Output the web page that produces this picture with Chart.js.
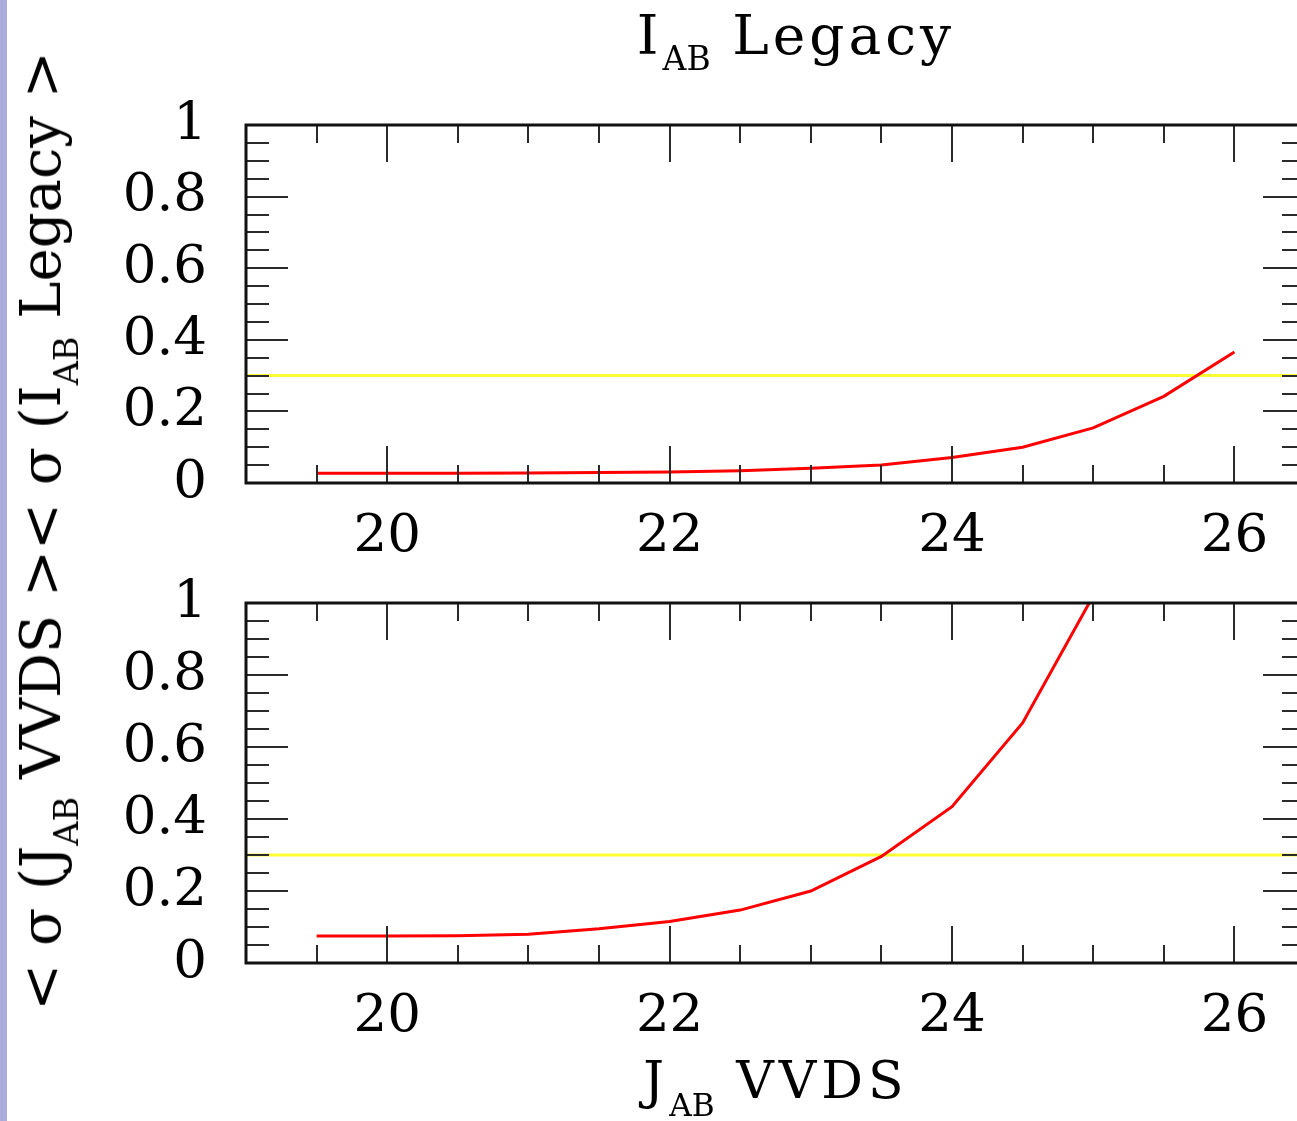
<!DOCTYPE html>
<html>
<head>
<meta charset="utf-8">
<title>sigma vs magnitude</title>
<script src="https://cdn.jsdelivr.net/npm/chart.js@4.4.1/dist/chart.umd.min.js"></script>
<style>
  html, body { margin: 0; padding: 0; background: #fff; overflow: hidden; }
  body { width: 1297px; height: 1121px; position: relative; font-family: "DejaVu Serif", serif; color: #000; }
  #strip { position: absolute; left: 0; top: 0; width: 7px; height: 1121px; background: #acacdc; z-index: 5; }
  canvas { position: absolute; left: 0; }
  #topPanel { top: 0; }
  #bottomPanel { top: 480px; }
  .txt { position: absolute; white-space: nowrap; line-height: 1; }
  .sub { font-size: 0.6em; line-height: 0; position: relative; letter-spacing: 0; }
  #title { font-size: 55px; letter-spacing: 4px; left: 796px; top: 8px; transform: translateX(-50%); }
  #title .sub { top: 16px; }
  #xlabel { font-size: 52px; letter-spacing: 5px; left: 776px; top: 1054px; transform: translateX(-50%); }
  #xlabel .sub { top: 18px; }
  #ylabel { font-size: 56px; left: 41px; top: 531px; transform: translate(-50%, -50%) rotate(-90deg); }
  #ylabel .sub { top: 18px; }
</style>
</head>
<body>
<div id="strip"></div>
<canvas id="topPanel" width="1330" height="580"></canvas>
<canvas id="bottomPanel" width="1330" height="641"></canvas>
<div class="txt" id="title">I<span class="sub">AB</span> Legacy</div>
<div class="txt" id="xlabel">J<span class="sub">AB</span> VVDS</div>
<div class="txt" id="ylabel">&lt; σ (J<span class="sub">AB</span> VVDS &gt;&lt; σ (I<span class="sub">AB</span> Legacy &gt;</div>

<script>
// magnitude bins (J_AB VVDS)
const magLegacy = [19.5, 20, 20.5, 21, 21.5, 22, 22.5, 23, 23.5, 24, 24.5, 25, 25.5, 26];
const sigmaLegacy = [0.027, 0.027, 0.027, 0.028, 0.029, 0.031, 0.034, 0.041, 0.050, 0.071, 0.100, 0.154, 0.242, 0.366];

const magVvds = [19.5, 20, 20.5, 21, 21.5, 22, 22.5, 23, 23.5, 24, 24.5, 25];
const sigmaVvds = [0.075, 0.075, 0.076, 0.080, 0.095, 0.115, 0.147, 0.200, 0.296, 0.434, 0.667, 1.02];

// 0.3 mag error cut
const sigmaCut = 0.3;

const xRange = [19, 26.5];
const yRange = [0, 1];
const xTickValues = [20, 22, 24, 26];
const xTickLabels = ["20", "22", "24", "26"];
const yTickValues = [0, 0.2, 0.4, 0.6, 0.8, 1];
const yTickLabels = ["0", "0.2", "0.4", "0.6", "0.8", "1"];
const xMinorStep = 0.5;
const yMinorStep = 0.05;

const tickFont = { family: "DejaVu Serif", size: 53, lineHeight: 1.2 };

// frame + inward ticks on all four sides
const frameTicks = {
  id: "frameTicks",
  afterDatasetsDraw(chart) {
    const { ctx, chartArea: a, scales: { x, y } } = chart;
    ctx.save();
    ctx.strokeStyle = "#2a2a2a";
    ctx.lineWidth = 2;
    ctx.beginPath();
    const nx = Math.round((xRange[1] - xRange[0]) / xMinorStep);
    for (let i = 1; i < nx; i++) {
      const v = xRange[0] + i * xMinorStep;
      const px = Math.round(x.getPixelForValue(v));
      const len = xTickValues.includes(v) ? 37 : 18;
      ctx.moveTo(px, a.bottom); ctx.lineTo(px, a.bottom - len);
      ctx.moveTo(px, a.top); ctx.lineTo(px, a.top + len);
    }
    const ny = Math.round((yRange[1] - yRange[0]) / yMinorStep);
    for (let i = 1; i < ny; i++) {
      const v = yRange[0] + i * yMinorStep;
      const py = Math.round(y.getPixelForValue(v));
      const len = i % 4 === 0 ? 42 : 23;
      ctx.moveTo(a.left, py); ctx.lineTo(a.left + len, py);
      ctx.moveTo(a.right, py); ctx.lineTo(a.right - len, py);
    }
    ctx.stroke();
    ctx.lineWidth = 3;
    ctx.strokeStyle = "#111";
    ctx.strokeRect(a.left, a.top, a.right - a.left, a.bottom - a.top);
    ctx.restore();
  }
};

function makePanel(canvasId, mags, sigmas, padTop, xAxisHeight) {
  const curve = mags.map((m, i) => ({ x: m, y: sigmas[i] }));
  const cut = xRange.map(m => ({ x: m, y: sigmaCut }));
  return new Chart(document.getElementById(canvasId).getContext("2d"), {
    type: "line",
    data: {
      datasets: [
        { data: curve, borderColor: "#ff0000", borderWidth: 3, pointRadius: 0, tension: 0, fill: false },
        { data: cut, borderColor: "#ffff33", borderWidth: 3, pointRadius: 0, tension: 0, fill: false }
      ]
    },
    options: {
      responsive: false,
      animation: false,
      devicePixelRatio: 1,
      layout: { padding: { left: 0, right: 25, top: padTop, bottom: 0 } },
      plugins: { legend: { display: false }, tooltip: { enabled: false } },
      scales: {
        x: {
          type: "linear",
          min: xRange[0],
          max: xRange[1],
          grid: { display: false, drawTicks: false },
          border: { display: false },
          afterBuildTicks: s => { s.ticks = xTickValues.map(v => ({ value: v })); },
          afterFit: s => { s.height = xAxisHeight; },
          ticks: {
            padding: 22,
            color: "#000",
            font: tickFont,
            maxRotation: 0,
            autoSkip: false,
            callback: (v, i) => xTickLabels[i]
          }
        },
        y: {
          type: "linear",
          min: yRange[0],
          max: yRange[1],
          grid: { display: false, drawTicks: false },
          border: { display: false },
          afterBuildTicks: s => { s.ticks = yTickValues.map(v => ({ value: v })); },
          afterFit: s => { s.width = 246; },
          ticks: {
            padding: 39,
            color: "#000",
            font: tickFont,
            autoSkip: false,
            callback: (v, i) => yTickLabels[i]
          }
        }
      }
    },
    plugins: [frameTicks]
  });
}

makePanel("topPanel", magLegacy, sigmaLegacy, 125, 97);
makePanel("bottomPanel", magVvds, sigmaVvds, 123, 158);
</script>
</body>
</html>
